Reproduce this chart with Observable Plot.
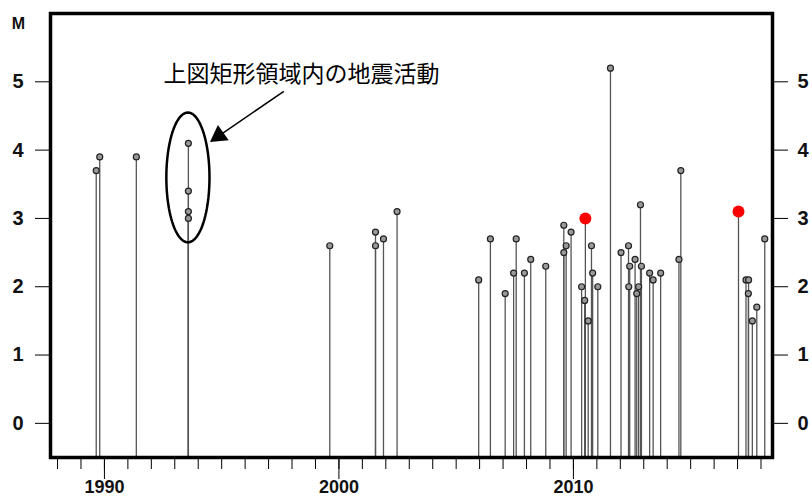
<!DOCTYPE html>
<html>
<head>
<meta charset="utf-8">
<script src="https://cdn.jsdelivr.net/npm/d3@7"></script>
<script src="https://cdn.jsdelivr.net/npm/@observablehq/plot@0.6"></script>
<style>
  html, body { margin: 0; padding: 0; background: #fff; }
  #chart { width: 812px; height: 499px; }
</style>
</head>
<body>
<div id="chart"></div>
<script>
// Earthquake times (decimal year) and magnitudes
const years = [
  1989.65, 1989.80, 1991.36, 1993.58, 1993.58, 1993.58, 1993.58,
  1999.61, 2001.56, 2001.56, 2001.90, 2002.48,
  2005.96, 2006.46, 2007.09, 2007.45, 2007.56, 2007.91, 2008.18, 2008.82,
  2009.59, 2009.59, 2009.69, 2009.90, 2010.35, 2010.48, 2010.63, 2010.77, 2010.82, 2011.04,
  2011.58, 2012.03, 2012.35, 2012.36, 2012.40, 2012.63, 2012.70, 2012.78, 2012.86, 2012.90,
  2013.25, 2013.40, 2013.72, 2014.50, 2014.58,
  2017.36, 2017.47, 2017.46, 2017.63, 2017.82, 2018.16
];
const mags = [
  3.7, 3.9, 3.9, 4.1, 3.4, 3.1, 3.0,
  2.6, 2.8, 2.6, 2.7, 3.1,
  2.1, 2.7, 1.9, 2.2, 2.7, 2.2, 2.4, 2.3,
  2.9, 2.5, 2.6, 2.8, 2.0, 1.8, 1.5, 2.6, 2.2, 2.0,
  5.2, 2.5, 2.6, 2.0, 2.3, 2.4, 1.9, 2.0, 3.2, 2.3,
  2.2, 2.1, 2.2, 2.4, 3.7,
  2.1, 2.1, 1.9, 1.5, 1.7, 2.7
];
// Highlighted (red) events
const redYears = [2010.51, 2017.04];
const redMags = [3.0, 3.1];

// Axis ticks
const yTicks = [0, 1, 2, 3, 4, 5];
const majorYears = [1990, 2000, 2010];
const minorYears = d3.range(1988, 2019);

// Annotation
const annotationText = "上図矩形領域内の地震活動";

const events = years.map((t, i) => ({t, m: mags[i]}));
const redEvents = redYears.map((t, i) => ({t, m: redMags[i]}));

const yMin = -0.5;
const ell = {cx: 1993.56, cy: 3.60, rx: 0.92, ry: 0.95};
const ellipse = d3.range(0, 101).map(k => {
  const a = (k / 100) * 2 * Math.PI;
  return {t: ell.cx + ell.rx * Math.cos(a), m: ell.cy + ell.ry * Math.sin(a)};
});
const arrow = [{t1: 1997.65, m1: 4.86, t2: 1994.88, m2: 4.21}];
const arrowHead = [{t: 1994.88, m: 4.21}];

const font = "'Liberation Sans', Arial, Helvetica, sans-serif";

const plot = Plot.plot({
  width: 812,
  height: 499,
  marginLeft: 50,
  marginRight: 40,
  marginTop: 13,
  marginBottom: 42,
  style: {fontFamily: font, background: "#fff", overflow: "visible"},
  x: {domain: [1987.7, 2018.49]},
  y: {domain: [yMin, 6]},
  marks: [
    Plot.ruleX(events, {x: "t", y1: yMin, y2: "m", stroke: "#555", strokeWidth: 1.3}),
    Plot.ruleX(redEvents, {x: "t", y1: yMin, y2: "m", stroke: "#555", strokeWidth: 1.3}),
    Plot.dot(events, {x: "t", y: "m", r: 3, fill: "#999", stroke: "#222", strokeWidth: 1.2}),
    Plot.dot(redEvents, {x: "t", y: "m", r: 6, fill: "#ff0000", stroke: "none"}),
    Plot.line(ellipse, {x: "t", y: "m", stroke: "#000", strokeWidth: 2.5}),
    Plot.link(arrow, {x1: "t1", y1: "m1", x2: "t2", y2: "m2", stroke: "#000", strokeWidth: 1.5}),
    Plot.dot(arrowHead, {x: "t", y: "m", symbol: "triangle", r: 7, rotate: 235, fill: "#000", stroke: "none"}),
    Plot.text([annotationText], {x: 1998.4, y: 5.11, fontSize: 23, fill: "#000",
      fontFamily: "'Noto Sans CJK JP', sans-serif", textAnchor: "middle"}),
    Plot.axisY({anchor: "left", ticks: yTicks, tickSize: 15, tickPadding: 12, fontSize: 20,
      fontWeight: "bold", label: null, tickFormat: d => String(d), fill: "#111"}),
    Plot.axisY({anchor: "right", ticks: yTicks, tickSize: 15, tickPadding: 10, fontSize: 20,
      fontWeight: "bold", label: null, tickFormat: d => String(d), fill: "#111"}),
    Plot.axisX({anchor: "bottom", ticks: minorYears, tickSize: 12, tickFormat: () => "", label: null}),
    Plot.axisX({anchor: "bottom", ticks: majorYears, tickSize: 22, tickPadding: 1, fontSize: 18,
      fontWeight: "bold", label: null, tickFormat: d => String(d), fill: "#111"}),
    Plot.text(["M"], {frameAnchor: "top-left", dx: -32, dy: 4, fontSize: 16, fontWeight: "bold",
      fill: "#111", textAnchor: "middle"}),
    Plot.frame({stroke: "#000", strokeWidth: 3.5})
  ]
});
document.getElementById("chart").appendChild(plot);
</script>
</body>
</html>
